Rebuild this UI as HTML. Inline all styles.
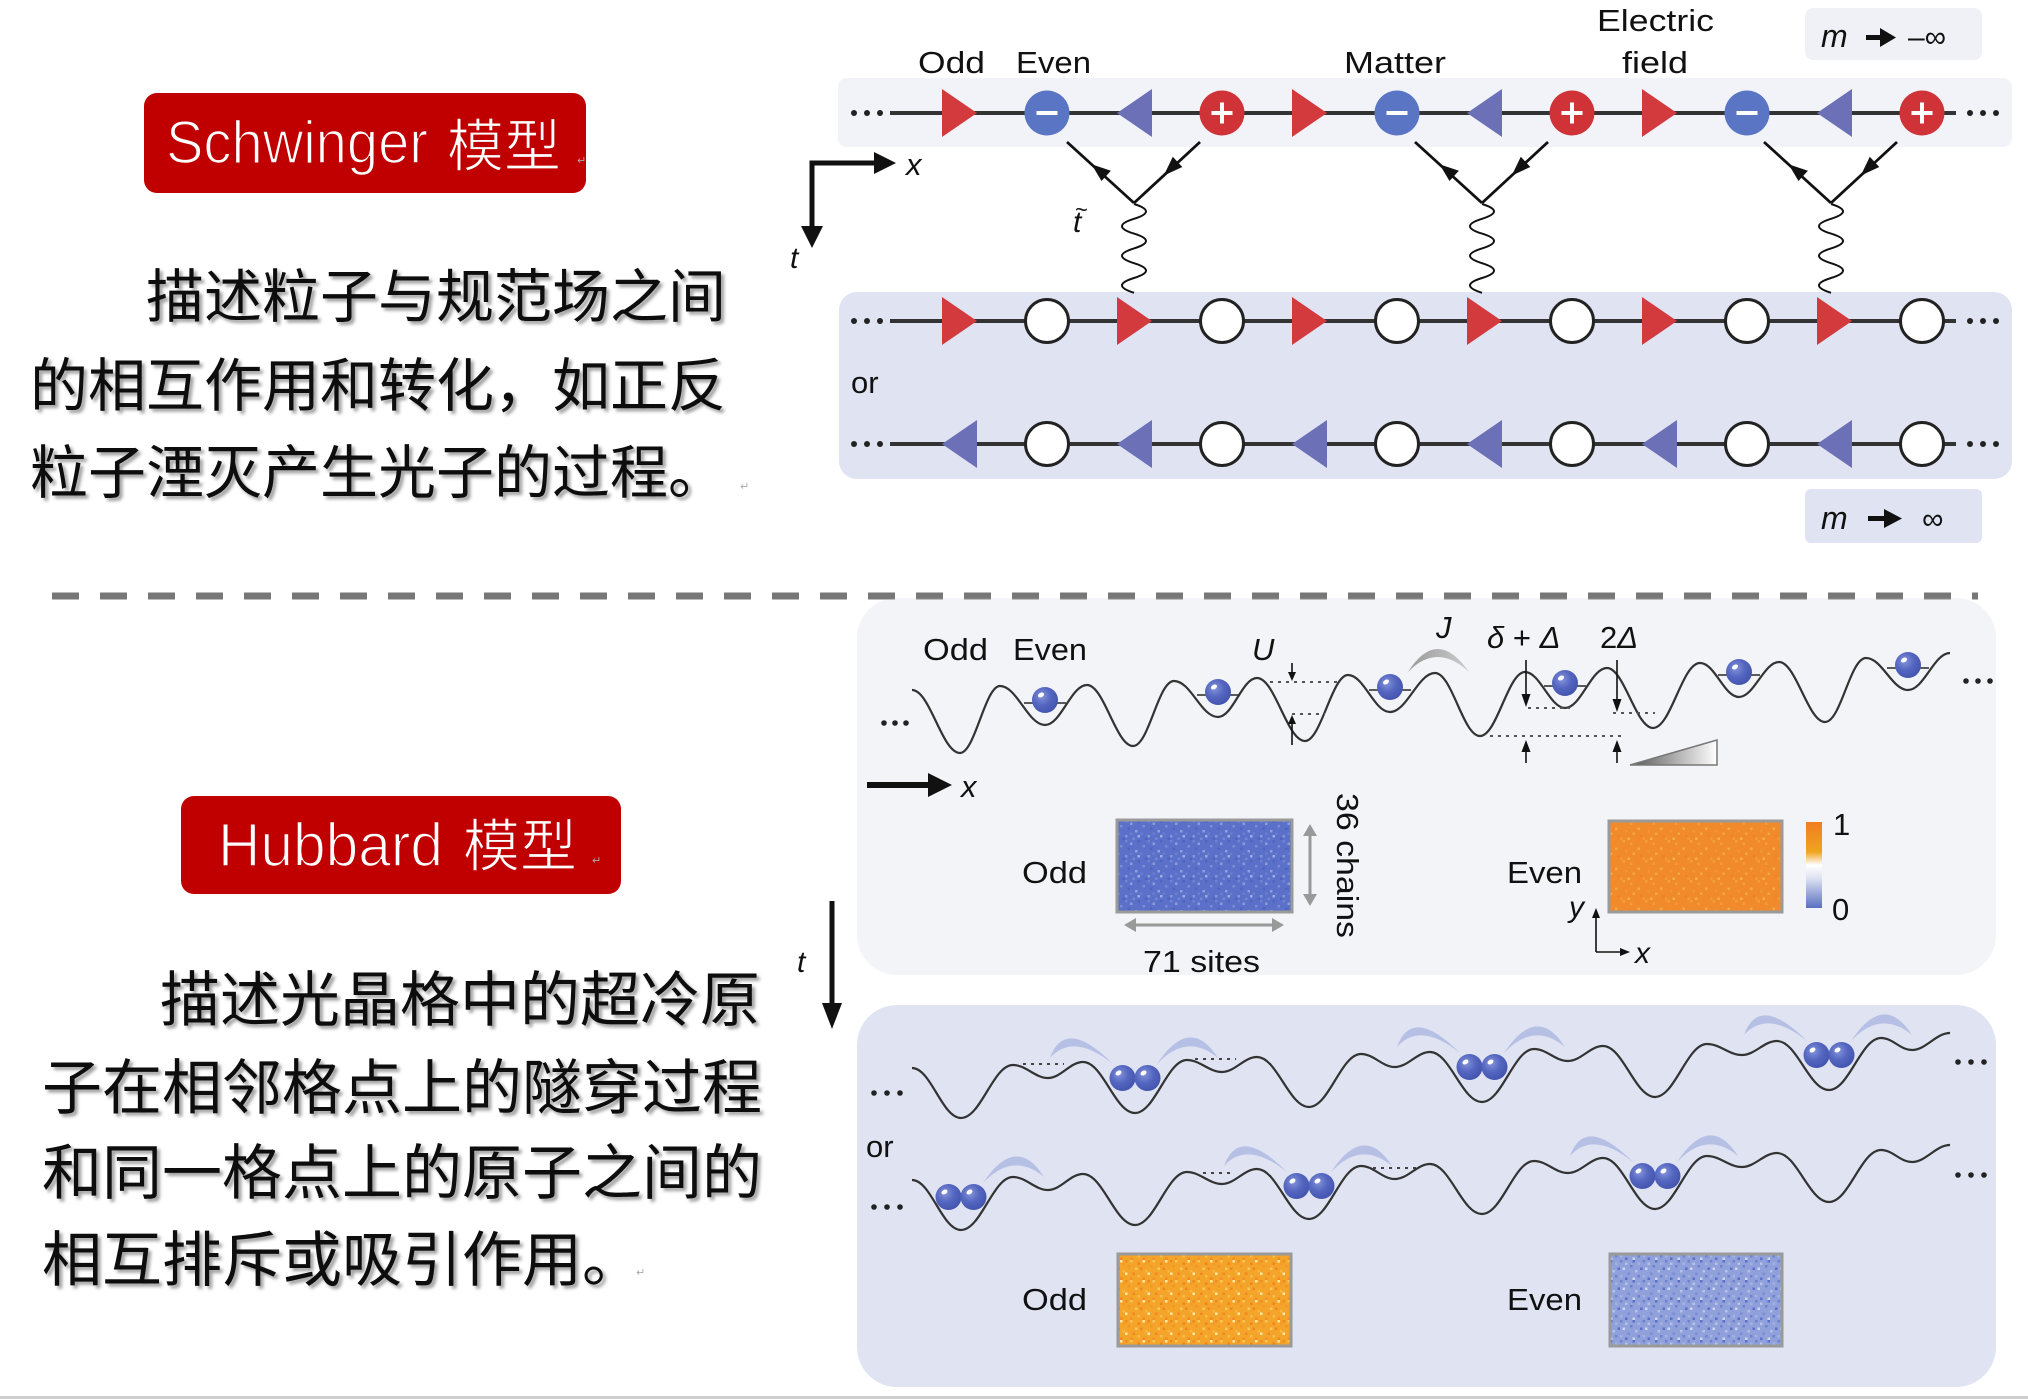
<!DOCTYPE html>
<html><head><meta charset="utf-8"><style>
html,body{margin:0;padding:0;background:#fff;}
body{width:2028px;height:1399px;overflow:hidden;}
svg{display:block;}
.l{font-family:"Liberation Sans",sans-serif;fill:#111;}
.i{font-style:italic;}
.cn{font-family:"Liberation Sans","Noto Sans CJK SC",sans-serif;fill:#111;}
</style></head><body>
<svg width="2028" height="1399" viewBox="0 0 2028 1399" xmlns="http://www.w3.org/2000/svg">
<defs>
<filter id="sh" x="-5%" y="-20%" width="110%" height="150%"><feDropShadow dx="3" dy="3" stdDeviation="1.5" flood-color="#000" flood-opacity="0.38"/></filter>
<polygon id="tr" points="-17.5,-24 -17.5,24 17.5,0" fill="#d33a3e"/>
<polygon id="tl" points="17.5,-24 17.5,24 -17.5,0" fill="#6c70b6"/>
<g id="cm"><circle r="22.5" fill="#5a75c4"/><rect x="-10.5" y="-2" width="21" height="4" fill="#fff"/></g>
<g id="cp"><circle r="22.5" fill="#cf3337"/><rect x="-10.5" y="-2" width="21" height="4" fill="#fff"/><rect x="-2" y="-10.5" width="4" height="21" fill="#fff"/></g>
<circle id="co" r="21.5" fill="#fff" stroke="#222" stroke-width="3"/>
<radialGradient id="ball" cx="0.38" cy="0.35" r="0.7"><stop offset="0" stop-color="#8594da"/><stop offset="0.5" stop-color="#5466c0"/><stop offset="1" stop-color="#4253ad"/></radialGradient>
<g id="atom"><circle r="13" fill="url(#ball)"/><ellipse cx="-4" cy="-5" rx="3.2" ry="2.2" fill="#fff" transform="rotate(-30 -4 -5)"/></g>
<linearGradient id="ramp" x1="0" y1="0" x2="1" y2="0"><stop offset="0" stop-color="#555"/><stop offset="1" stop-color="#fff"/></linearGradient>
<linearGradient id="cbar" x1="0" y1="0" x2="0" y2="1"><stop offset="0" stop-color="#f07d22"/><stop offset="0.35" stop-color="#f0a420"/><stop offset="0.5" stop-color="#ffffff"/><stop offset="0.65" stop-color="#dfe3f2"/><stop offset="1" stop-color="#5a6fc0"/></linearGradient>
<linearGradient id="jarc" x1="0" y1="0" x2="1" y2="0"><stop offset="0" stop-color="#999"/><stop offset="1" stop-color="#ccc"/></linearGradient>
<pattern id="pA" width="22.5" height="20" patternUnits="userSpaceOnUse">
<rect width="22.5" height="20" fill="#5b70c8"/>
<rect x="0" y="0" width="2.5" height="2.5" fill="#6f83d0"/><rect x="5" y="2.5" width="2.5" height="2.5" fill="#8c9cda"/>
<rect x="12.5" y="0" width="2.5" height="2.5" fill="#5063bd"/><rect x="17.5" y="5" width="2.5" height="2.5" fill="#7a8dd5"/>
<rect x="2.5" y="7.5" width="2.5" height="2.5" fill="#4f63bf"/><rect x="10" y="10" width="2.5" height="2.5" fill="#90a0dc"/>
<rect x="15" y="12.5" width="2.5" height="2.5" fill="#6a7ecf"/><rect x="0" y="15" width="2.5" height="2.5" fill="#8596d8"/>
<rect x="7.5" y="17.5" width="2.5" height="2.5" fill="#7587d2"/><rect x="20" y="17.5" width="2.5" height="2.5" fill="#5063bd"/>
<rect x="12.5" y="15" width="2.5" height="2.5" fill="#a0addf"/><rect x="5" y="12.5" width="2.5" height="2.5" fill="#6a7dce"/>
</pattern>
<pattern id="pB" width="22.5" height="20" patternUnits="userSpaceOnUse">
<rect width="22.5" height="20" fill="#f08a2b"/>
<rect x="2.5" y="0" width="2.5" height="2.5" fill="#f3a03c"/><rect x="10" y="2.5" width="2.5" height="2.5" fill="#f49c36"/>
<rect x="17.5" y="7.5" width="2.5" height="2.5" fill="#f5ab45"/><rect x="5" y="10" width="2.5" height="2.5" fill="#f2953a"/>
<rect x="12.5" y="12.5" width="2.5" height="2.5" fill="#f4a640"/><rect x="0" y="17.5" width="2.5" height="2.5" fill="#f39a35"/>
<rect x="20" y="15" width="2.5" height="2.5" fill="#ee8226"/><rect x="7.5" y="17.5" width="2.5" height="2.5" fill="#f5b04a"/>
</pattern>
<pattern id="pC" width="22.5" height="20" patternUnits="userSpaceOnUse">
<rect width="22.5" height="20" fill="#f4a428"/>
<rect x="0" y="0" width="2.5" height="2.5" fill="#f08a22"/><rect x="5" y="0" width="2.5" height="2.5" fill="#f8c55a"/>
<rect x="12.5" y="2.5" width="2.5" height="2.5" fill="#ef8420"/><rect x="17.5" y="0" width="2.5" height="2.5" fill="#fbe7a0"/>
<rect x="2.5" y="5" width="2.5" height="2.5" fill="#f29628"/><rect x="10" y="7.5" width="2.5" height="2.5" fill="#f8c95e"/>
<rect x="15" y="7.5" width="2.5" height="2.5" fill="#ef8620"/><rect x="20" y="10" width="2.5" height="2.5" fill="#f6b640"/>
<rect x="0" y="12.5" width="2.5" height="2.5" fill="#fde9a8"/><rect x="7.5" y="12.5" width="2.5" height="2.5" fill="#ef8822"/>
<rect x="12.5" y="15" width="2.5" height="2.5" fill="#f7bd4c"/><rect x="5" y="17.5" width="2.5" height="2.5" fill="#f0902a"/>
<rect x="17.5" y="17.5" width="2.5" height="2.5" fill="#f08a22"/><rect x="20" y="2.5" width="2.5" height="2.5" fill="#f29a2c"/>
</pattern>
<pattern id="pD" width="22.5" height="20" patternUnits="userSpaceOnUse">
<rect width="22.5" height="20" fill="#8fa0da"/>
<rect x="0" y="0" width="2.5" height="2.5" fill="#6e83cf"/><rect x="5" y="2.5" width="2.5" height="2.5" fill="#b7c2e8"/>
<rect x="12.5" y="0" width="2.5" height="2.5" fill="#5b70c6"/><rect x="17.5" y="2.5" width="2.5" height="2.5" fill="#a4b2e2"/>
<rect x="2.5" y="7.5" width="2.5" height="2.5" fill="#cdd5ef"/><rect x="10" y="5" width="2.5" height="2.5" fill="#6e83cf"/>
<rect x="15" y="10" width="2.5" height="2.5" fill="#b7c2e8"/><rect x="20" y="7.5" width="2.5" height="2.5" fill="#5b70c6"/>
<rect x="7.5" y="12.5" width="2.5" height="2.5" fill="#7a8dd4"/><rect x="0" y="15" width="2.5" height="2.5" fill="#a4b2e2"/>
<rect x="12.5" y="17.5" width="2.5" height="2.5" fill="#cdd5ef"/><rect x="17.5" y="15" width="2.5" height="2.5" fill="#6e83cf"/>
<rect x="5" y="17.5" width="2.5" height="2.5" fill="#5b70c6"/>
</pattern>
<path id="waveB" fill="none" stroke="#333" stroke-width="2.2" d="M912,1068 C931,1068 942,1118 961,1118 C981,1118 993,1065 1013,1065 C1026,1065 1035,1078 1048,1078 C1061,1078 1070,1062 1083,1062 C1103,1062 1115,1113 1135,1113 C1155,1113 1167,1060 1187,1060 C1200,1060 1209,1072 1222,1072 C1235,1072 1244,1057 1257,1057 C1277,1057 1289,1107 1309,1107 C1329,1107 1341,1054 1361,1054 C1374,1054 1382,1067 1395,1067 C1408,1067 1417,1052 1430,1052 C1450,1052 1462,1102 1482,1102 C1502,1102 1514,1049 1534,1049 C1547,1049 1555,1061 1568,1061 C1581,1061 1590,1046 1603,1046 C1623,1046 1635,1097 1655,1097 C1675,1097 1687,1044 1707,1044 C1720,1044 1729,1055 1742,1055 C1755,1055 1764,1041 1777,1041 C1797,1041 1809,1090 1829,1090 C1849,1090 1861,1038 1881,1038 C1893,1038 1900,1050 1912,1050 C1926,1050 1936,1033 1950,1033"/>
<g id="feyn" stroke="#111" stroke-width="2.8" fill="none">
<line x1="1134" y1="203" x2="1067" y2="142"/>
<line x1="1200" y1="142" x2="1134" y2="203"/>
<polygon points="1091.5,164.3 1110.9,170.7 1101.5,181.0" fill="#111" stroke="none"/>
<polygon points="1163.7,175.6 1182.3,167.0 1172.8,156.8" fill="#111" stroke="none"/>
<path stroke-width="2" d="M1134,204 q24,7.4 0,14.8 q-24,7.4 0,14.8 q24,7.4 0,14.8 q-24,7.4 0,14.8 q24,7.4 0,14.8 q-24,7.4 0,14.8"/>
</g>
</defs>

<!-- ===== LEFT TEXT ===== -->
<rect x="144" y="93" width="442" height="100" rx="13" fill="#c00000"/>
<text x="166" y="163" class="l" style="fill:#fff" stroke="#c00000" stroke-width="1.6" font-size="60" textLength="262" lengthAdjust="spacingAndGlyphs">Schwinger</text>
<text x="447" y="166" class="cn" style="fill:#fff" stroke="#c00000" stroke-width="1.2" font-size="57">模型</text>
<text x="577" y="164" font-family="DejaVu Sans" font-size="11" fill="#aaa">↵</text>

<g filter="url(#sh)" class="cn" font-size="58">
<text x="146" y="317">描述粒子与规范场之间</text>
<text x="30" y="406">的相互作用和转化，如正反</text>
<text x="30" y="493">粒子湮灭产生光子的过程。</text>
</g>
<text x="740" y="490" font-family="DejaVu Sans" font-size="11" fill="#aaa">↵</text>

<line x1="52" y1="596" x2="1978" y2="596" stroke="#777" stroke-width="7" stroke-dasharray="27 21"/>

<rect x="181" y="796" width="440" height="98" rx="13" fill="#c00000"/>
<text x="218" y="866" class="l" style="fill:#fff" stroke="#c00000" stroke-width="1.6" font-size="61" textLength="225" lengthAdjust="spacingAndGlyphs">Hubbard</text>
<text x="463" y="866" class="cn" style="fill:#fff" stroke="#c00000" stroke-width="1.2" font-size="57">模型</text>
<text x="592" y="864" font-family="DejaVu Sans" font-size="11" fill="#aaa">↵</text>

<g filter="url(#sh)" class="cn" font-size="60">
<text x="160" y="1021">描述光晶格中的超冷原</text>
<text x="42" y="1109">子在相邻格点上的隧穿过程</text>
<text x="42" y="1194">和同一格点上的原子之间的</text>
<text x="42" y="1281">相互排斥或吸引作用。</text>
</g>
<text x="636" y="1276" font-family="DejaVu Sans" font-size="11" fill="#aaa">↵</text>

<!-- ===== TOP RIGHT (Schwinger) ===== -->
<rect x="1805" y="8" width="177" height="52" rx="8" fill="#eff1f6"/>
<text x="1821" y="47" class="l i" font-size="32">m</text>
<rect x="1866" y="35" width="16" height="5" fill="#111"/>
<polygon points="1880,28 1896,37.5 1880,47" fill="#111"/>
<text x="1908" y="47" class="l" font-size="30">–∞</text>

<text x="918" y="73" class="l" font-size="31" textLength="67" lengthAdjust="spacingAndGlyphs">Odd</text>
<text x="1016" y="73" class="l" font-size="31" textLength="75" lengthAdjust="spacingAndGlyphs">Even</text>
<text x="1344" y="73" class="l" font-size="31" textLength="102" lengthAdjust="spacingAndGlyphs">Matter</text>
<text x="1597" y="31" class="l" font-size="31" textLength="117" lengthAdjust="spacingAndGlyphs">Electric</text>
<text x="1622" y="73" class="l" font-size="31" textLength="66" lengthAdjust="spacingAndGlyphs">field</text>

<rect x="838" y="78" width="1174" height="69" rx="9" fill="#f2f3f8"/>
<rect x="839" y="292" width="1173" height="187" rx="18" fill="#dfe3f2"/>
<rect x="1805" y="489" width="177" height="54" rx="6" fill="#dfe3f2"/>
<text x="1821" y="529" class="l i" font-size="32">m</text>
<rect x="1868" y="516" width="18" height="5" fill="#111"/>
<polygon points="1884,509 1902,518.5 1884,528" fill="#111"/>
<text x="1922" y="529" class="l" font-size="30">∞</text>

<!-- chain lines -->
<g fill="#222">
<circle cx="854" cy="113" r="3"/><circle cx="867" cy="113" r="3"/><circle cx="880" cy="113" r="3"/>
<circle cx="1970" cy="113" r="3"/><circle cx="1983" cy="113" r="3"/><circle cx="1996" cy="113" r="3"/>
<circle cx="854" cy="321" r="3"/><circle cx="867" cy="321" r="3"/><circle cx="880" cy="321" r="3"/>
<circle cx="1970" cy="321" r="3"/><circle cx="1983" cy="321" r="3"/><circle cx="1996" cy="321" r="3"/>
<circle cx="854" cy="444" r="3"/><circle cx="867" cy="444" r="3"/><circle cx="880" cy="444" r="3"/>
<circle cx="1970" cy="444" r="3"/><circle cx="1983" cy="444" r="3"/><circle cx="1996" cy="444" r="3"/>
</g>
<g stroke="#333" stroke-width="4">
<line x1="890" y1="113" x2="1956" y2="113"/>
<line x1="890" y1="321" x2="1956" y2="321"/>
<line x1="890" y1="444" x2="1956" y2="444"/>
</g>
<!-- chain 1 -->
<use href="#tr" x="959.5" y="113"/><use href="#cm" x="1047" y="113"/><use href="#tl" x="1134.5" y="113"/><use href="#cp" x="1222" y="113"/>
<use href="#tr" x="1309.5" y="113"/><use href="#cm" x="1397" y="113"/><use href="#tl" x="1484.5" y="113"/><use href="#cp" x="1572" y="113"/>
<use href="#tr" x="1659.5" y="113"/><use href="#cm" x="1747" y="113"/><use href="#tl" x="1834.5" y="113"/><use href="#cp" x="1922" y="113"/>
<!-- chain 2 -->
<use href="#tr" x="959.5" y="321"/><use href="#co" x="1047" y="321"/><use href="#tr" x="1134.5" y="321"/><use href="#co" x="1222" y="321"/>
<use href="#tr" x="1309.5" y="321"/><use href="#co" x="1397" y="321"/><use href="#tr" x="1484.5" y="321"/><use href="#co" x="1572" y="321"/>
<use href="#tr" x="1659.5" y="321"/><use href="#co" x="1747" y="321"/><use href="#tr" x="1834.5" y="321"/><use href="#co" x="1922" y="321"/>
<!-- chain 3 -->
<use href="#tl" x="959.5" y="444"/><use href="#co" x="1047" y="444"/><use href="#tl" x="1134.5" y="444"/><use href="#co" x="1222" y="444"/>
<use href="#tl" x="1309.5" y="444"/><use href="#co" x="1397" y="444"/><use href="#tl" x="1484.5" y="444"/><use href="#co" x="1572" y="444"/>
<use href="#tl" x="1659.5" y="444"/><use href="#co" x="1747" y="444"/><use href="#tl" x="1834.5" y="444"/><use href="#co" x="1922" y="444"/>
<text x="851" y="393" class="l" font-size="31">or</text>

<!-- feynman -->
<use href="#feyn"/>
<use href="#feyn" x="348"/>
<use href="#feyn" x="697"/>
<text x="1073" y="232" class="l i" font-size="30">t</text>
<text x="1075" y="217" class="l" font-size="22">~</text>

<!-- axes top -->
<polyline points="812,228 812,163 877,163" fill="none" stroke="#111" stroke-width="5"/>
<polygon points="874,152 896,163 874,174" fill="#111"/>
<polygon points="801,226 812,248 823,226" fill="#111"/>
<text x="906" y="175" class="l i" font-size="31">x</text>
<text x="790" y="268" class="l i" font-size="30">t</text>

<!-- ===== LOWER PANEL A ===== -->
<rect x="857" y="598" width="1139" height="377" rx="40" fill="#f3f4f8"/>
<line x1="52" y1="596" x2="1978" y2="596" stroke="#777" stroke-width="7" stroke-dasharray="27 21" opacity="0.9"/>
<text x="923" y="660" class="l" font-size="31" textLength="65" lengthAdjust="spacingAndGlyphs">Odd</text>
<text x="1013" y="660" class="l" font-size="31" textLength="74" lengthAdjust="spacingAndGlyphs">Even</text>
<text x="1252" y="660" class="l i" font-size="31">U</text>
<text x="1436" y="638" class="l i" font-size="31">J</text>
<text x="1487" y="648" class="l" font-size="31"><tspan font-style="italic">δ</tspan> + <tspan font-style="italic">Δ</tspan></text>
<text x="1600" y="648" class="l" font-size="31">2<tspan font-style="italic">Δ</tspan></text>

<g fill="#222"><circle cx="884" cy="723" r="2.8"/><circle cx="895" cy="723" r="2.8"/><circle cx="906" cy="723" r="2.8"/>
<circle cx="1966" cy="681" r="2.8"/><circle cx="1978" cy="681" r="2.8"/><circle cx="1990" cy="681" r="2.8"/></g>

<!-- level lines -->
<g stroke="#444" stroke-width="1.8">
<line x1="1024" y1="703" x2="1066" y2="703"/><line x1="1197" y1="695" x2="1239" y2="695"/>
<line x1="1369" y1="690" x2="1411" y2="690"/><line x1="1544" y1="686" x2="1586" y2="686"/>
<line x1="1718" y1="675" x2="1760" y2="675"/><line x1="1887" y1="668" x2="1929" y2="668"/>
</g>
<path fill="none" stroke="#333" stroke-width="2.2" d="M912,690 C930,690 942,753 960,753 C975,753 985,686 1000,686 C1017,686 1028,725 1045,725 C1061,725 1071,685 1087,685 C1104,685 1116,746 1133,746 C1149,746 1158,681 1174,681 C1191,681 1201,717 1218,717 C1233,717 1242,678 1257,678 C1275,678 1287,741 1305,741 C1321,741 1332,675 1348,675 C1364,675 1374,712 1390,712 C1407,712 1418,673 1435,673 C1452,673 1463,736 1480,736 C1497,736 1508,672 1525,672 C1540,672 1550,708 1565,708 C1581,708 1591,668 1607,668 C1624,668 1636,728 1653,728 C1671,728 1682,663 1700,663 C1715,663 1724,697 1739,697 C1754,697 1764,662 1779,662 C1796,662 1808,722 1825,722 C1841,722 1850,658 1866,658 C1882,658 1892,690 1908,690 C1924,690 1934,653 1950,653"/>
<use href="#atom" x="1045" y="700"/><use href="#atom" x="1218" y="692"/><use href="#atom" x="1390" y="687"/>
<use href="#atom" x="1565" y="683"/><use href="#atom" x="1739" y="672"/><use href="#atom" x="1908" y="665"/>

<!-- J arc -->
<path d="M1408,672 Q1437,626 1469,672 Q1437,642 1408,672 Z" fill="url(#jarc)"/>
<!-- dotted -->
<g stroke="#555" stroke-width="2" stroke-dasharray="3 5">
<line x1="1270" y1="682" x2="1342" y2="682"/><line x1="1292" y1="714" x2="1325" y2="714"/>
<line x1="1528" y1="708" x2="1570" y2="708"/><line x1="1490" y1="736" x2="1622" y2="736"/>
<line x1="1613" y1="713" x2="1655" y2="713"/>
</g>
<!-- small arrows -->
<g stroke="#111" stroke-width="1.6">
<line x1="1292" y1="663" x2="1292" y2="673"/><line x1="1292" y1="745" x2="1292" y2="723"/>
<line x1="1526" y1="660" x2="1526" y2="696"/><line x1="1526" y1="763" x2="1526" y2="750"/>
<line x1="1617" y1="660" x2="1617" y2="700"/><line x1="1617" y1="763" x2="1617" y2="750"/>
</g>
<g fill="#111">
<polygon points="1288,672 1296,672 1292,681"/><polygon points="1288,724 1296,724 1292,715"/>
<polygon points="1521.5,694 1530.5,694 1526,707"/><polygon points="1521.5,752 1530.5,752 1526,740"/>
<polygon points="1612.5,699 1621.5,699 1617,712"/><polygon points="1612.5,752 1621.5,752 1617,740"/>
</g>
<polygon points="1630,765 1717,740 1717,765" fill="url(#ramp)" stroke="#777" stroke-width="1.5"/>

<!-- x arrow -->
<line x1="867" y1="785" x2="932" y2="785" stroke="#111" stroke-width="6"/>
<polygon points="928,773 952,785 928,797" fill="#111"/>
<text x="961" y="797" class="l i" font-size="31">x</text>

<!-- heatmaps A -->
<text x="1022" y="883" class="l" font-size="31" textLength="65" lengthAdjust="spacingAndGlyphs">Odd</text>
<rect x="1117" y="820" width="175" height="92" fill="url(#pA)" stroke="#9a9a9a" stroke-width="3"/>
<g stroke="#999" stroke-width="3" fill="#999">
<line x1="1132" y1="925" x2="1276" y2="925"/>
<line x1="1310" y1="833" x2="1310" y2="897"/>
</g>
<g fill="#999">
<polygon points="1124,925 1136,918 1136,932"/><polygon points="1284,925 1272,918 1272,932"/>
<polygon points="1310,824 1303,836 1317,836"/><polygon points="1310,906 1303,894 1317,894"/>
</g>
<text x="1143" y="972" class="l" font-size="31" textLength="117" lengthAdjust="spacingAndGlyphs">71 sites</text>
<text transform="translate(1337,793) rotate(90)" class="l" font-size="31" textLength="145" lengthAdjust="spacingAndGlyphs">36 chains</text>

<text x="1507" y="883" class="l" font-size="31" textLength="75" lengthAdjust="spacingAndGlyphs">Even</text>
<rect x="1609" y="821" width="173" height="91" fill="url(#pB)" stroke="#9a9a9a" stroke-width="3"/>
<rect x="1806" y="822" width="16" height="86" fill="url(#cbar)"/>
<text x="1833" y="835" class="l" font-size="31">1</text>
<text x="1832" y="920" class="l" font-size="31">0</text>
<g stroke="#111" stroke-width="1.6"><line x1="1596" y1="952" x2="1596" y2="917"/><line x1="1596" y1="952" x2="1621" y2="952"/></g>
<polygon points="1592,918 1600,918 1596,908" fill="#111"/>
<polygon points="1620,948 1620,956 1630,952" fill="#111"/>
<text x="1569" y="917" class="l i" font-size="30">y</text>
<text x="1635" y="963" class="l i" font-size="30">x</text>

<!-- t arrow -->
<line x1="832" y1="901" x2="832" y2="1006" stroke="#111" stroke-width="5"/>
<polygon points="822,1003 832,1029 842,1003" fill="#111"/>
<text x="797" y="972" class="l i" font-size="30">t</text>

<!-- ===== LOWER PANEL B ===== -->
<rect x="857" y="1005" width="1139" height="382" rx="40" fill="#dfe3f2"/>
<g fill="#222"><circle cx="874" cy="1093" r="2.8"/><circle cx="887" cy="1093" r="2.8"/><circle cx="900" cy="1093" r="2.8"/>
<circle cx="874" cy="1207" r="2.8"/><circle cx="887" cy="1207" r="2.8"/><circle cx="900" cy="1207" r="2.8"/>
<circle cx="1958" cy="1062" r="2.8"/><circle cx="1971" cy="1062" r="2.8"/><circle cx="1984" cy="1062" r="2.8"/>
<circle cx="1958" cy="1175" r="2.8"/><circle cx="1971" cy="1175" r="2.8"/><circle cx="1984" cy="1175" r="2.8"/></g>
<text x="866" y="1157" class="l" font-size="31">or</text>

<!-- arcs -->
<g fill="#b6c0e4">
<path d="M1050,1058 Q1065,1016 1113,1064 Q1073,1032 1050,1058 Z"/>
<path d="M1157,1064 Q1190,1014 1218,1058 Q1187,1032 1157,1064 Z"/>
<path d="M1397,1047 Q1412,1005 1460,1053 Q1420,1021 1397,1047 Z"/>
<path d="M1504,1053 Q1537,1003 1565,1047 Q1534,1021 1504,1053 Z"/>
<path d="M1744,1035 Q1759,993 1807,1041 Q1767,1009 1744,1035 Z"/>
<path d="M1851,1041 Q1884,991 1912,1035 Q1881,1009 1851,1041 Z"/>
<path d="M983,1183 Q1016,1133 1044,1177 Q1013,1151 983,1183 Z"/>
<path d="M1224,1166 Q1239,1124 1287,1172 Q1247,1140 1224,1166 Z"/>
<path d="M1331,1172 Q1364,1122 1392,1166 Q1361,1140 1331,1172 Z"/>
<path d="M1570,1156 Q1585,1114 1633,1162 Q1593,1130 1570,1156 Z"/>
<path d="M1677,1162 Q1710,1112 1738,1156 Q1707,1130 1677,1162 Z"/>
</g>
<g stroke="#444" stroke-width="2" stroke-dasharray="3 5">
<line x1="1023" y1="1064" x2="1064" y2="1064"/><line x1="1195" y1="1059" x2="1236" y2="1059"/>
<line x1="1203" y1="1173" x2="1234" y2="1173"/><line x1="1373" y1="1168" x2="1420" y2="1168"/>
</g>
<use href="#waveB"/>
<use href="#waveB" y="112"/>
<!-- atom pairs -->
<use href="#atom" x="1122.5" y="1078"/><use href="#atom" x="1147.5" y="1078"/>
<use href="#atom" x="1469.5" y="1067"/><use href="#atom" x="1494.5" y="1067"/>
<use href="#atom" x="1816.5" y="1055"/><use href="#atom" x="1841.5" y="1055"/>
<use href="#atom" x="948.5" y="1197"/><use href="#atom" x="973.5" y="1197"/>
<use href="#atom" x="1296.5" y="1186"/><use href="#atom" x="1321.5" y="1186"/>
<use href="#atom" x="1642.5" y="1176"/><use href="#atom" x="1667.5" y="1176"/>

<!-- heatmaps B -->
<text x="1022" y="1310" class="l" font-size="31" textLength="65" lengthAdjust="spacingAndGlyphs">Odd</text>
<rect x="1118" y="1254" width="173" height="92" fill="url(#pC)" stroke="#9a9a9a" stroke-width="3"/>
<text x="1507" y="1310" class="l" font-size="31" textLength="75" lengthAdjust="spacingAndGlyphs">Even</text>
<rect x="1610" y="1254" width="172" height="92" fill="url(#pD)" stroke="#9a9a9a" stroke-width="3"/>

<!-- bottom rule -->
<rect x="0" y="1396" width="2028" height="3" fill="#cfcfcf"/>
</svg>
</body></html>
